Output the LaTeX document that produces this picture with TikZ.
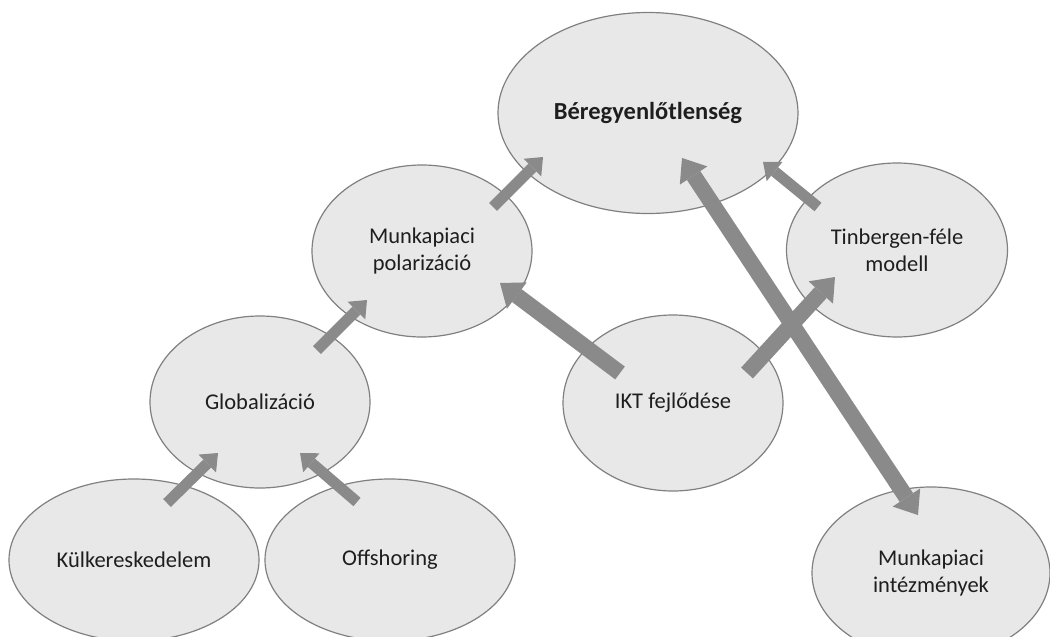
\documentclass[tikz,border=0pt]{standalone}
\usepackage{fontspec}
\setmainfont{Carlito}
\usetikzlibrary{shapes.geometric,arrows.meta,calc}

\definecolor{bubblefill}{RGB}{232,232,232}
\definecolor{bubbleline}{RGB}{128,128,128}
\definecolor{arrowgray}{RGB}{138,138,138}
\definecolor{txt}{RGB}{30,30,30}

\tikzset{
  bub/.style={ellipse, draw=bubbleline, fill=bubblefill, line width=1.2pt,
    inner sep=0pt, align=center, text=txt,
    font=\fontsize{22.5}{27}\selectfont},
  thinarrow/.style={draw=arrowgray, line width=11pt,
    -{Triangle[width=25pt,length=15pt,line width=0pt]}},
  thickarrow/.style={draw=arrowgray, line width=16pt,
    -{Triangle[width=33pt,length=21pt,line width=0pt]}},
  botharrow/.style={draw=arrowgray, line width=16pt,
    {Triangle[width=33pt,length=21pt,line width=0pt]}-{Triangle[width=33pt,length=21pt,line width=0pt]}},
}

\begin{document}
\begin{tikzpicture}[x=1pt,y=-1pt]
\clip (0,0) rectangle (1050,637);
\fill[white] (0,0) rectangle (1050,637);

% bubbles
\node[bub, minimum width=300pt, minimum height=201pt] (ber) at (648,113)
  {\fontsize{24.5}{29}\selectfont\bfseries Béregyenlőtlenség};
\node[bub, minimum width=220pt, minimum height=172pt] (mp) at (422,251)
  {Munkapiaci\\polarizáció};
\node[bub, minimum width=221pt, minimum height=174pt] (tin) at (897,250)
  {Tinbergen-féle\\modell};
\node[bub, minimum width=220pt, minimum height=172pt] (glob) at (260,402)
  {Globalizáció};
\node[bub, minimum width=220pt, minimum height=176pt] (ikt) at (673,403)
  {IKT fejlődése};
\node[bub, minimum width=250pt, minimum height=162pt] (kul) at (134,560)
  {Külkereskedelem};
\node[bub, minimum width=250pt, minimum height=162pt] (off) at (390,560)
  {Offshoring};
\node[bub, minimum width=238pt, minimum height=172pt] (mi) at (931,573)
  {Munkapiaci\\intézmények};

% arrow ends, placed relative to the bubbles they sit in
\coordinate (kulS)  at ($(kul)+(33,-57)$);
\coordinate (globT1) at ($(glob)+(-42,51)$);
\coordinate (offS)  at ($(off)+(-33,-58)$);
\coordinate (globT2) at ($(glob)+(40,51)$);
\coordinate (globS) at ($(glob)+(57,-52)$);
\coordinate (mpT1)  at ($(mp)+(-55,49)$);
\coordinate (mpS)   at ($(mp)+(71,-44)$);
\coordinate (berT1) at ($(ber)+(-105,44)$);
\coordinate (iktS1) at ($(ikt)+(-53,-30)$);
\coordinate (mpT2)  at ($(mp)+(78,32)$);
\coordinate (iktS2) at ($(ikt)+(74,-30)$);
\coordinate (tinT)  at ($(tin)+(-62,27)$);
\coordinate (tinS)  at ($(tin)+(-79,-43)$);
\coordinate (berT2) at ($(ber)+(115,49)$);
\coordinate (berT3) at ($(ber)+(34,45)$);
\coordinate (miT)   at ($(mi)+(-13,-58)$);

% connectors
\draw[thinarrow]  (kulS) -- (globT1);
\draw[thinarrow]  (offS) -- (globT2);
\draw[thinarrow]  (globS) -- (mpT1);
\draw[thinarrow]  (mpS) -- (berT1);
\draw[thickarrow] (iktS1) -- (mpT2);
\draw[thickarrow] (iktS2) -- (tinT);
\draw[thinarrow]  (tinS) -- (berT2);
\draw[botharrow]  (berT3) -- (miT);
\end{tikzpicture}
\end{document}
